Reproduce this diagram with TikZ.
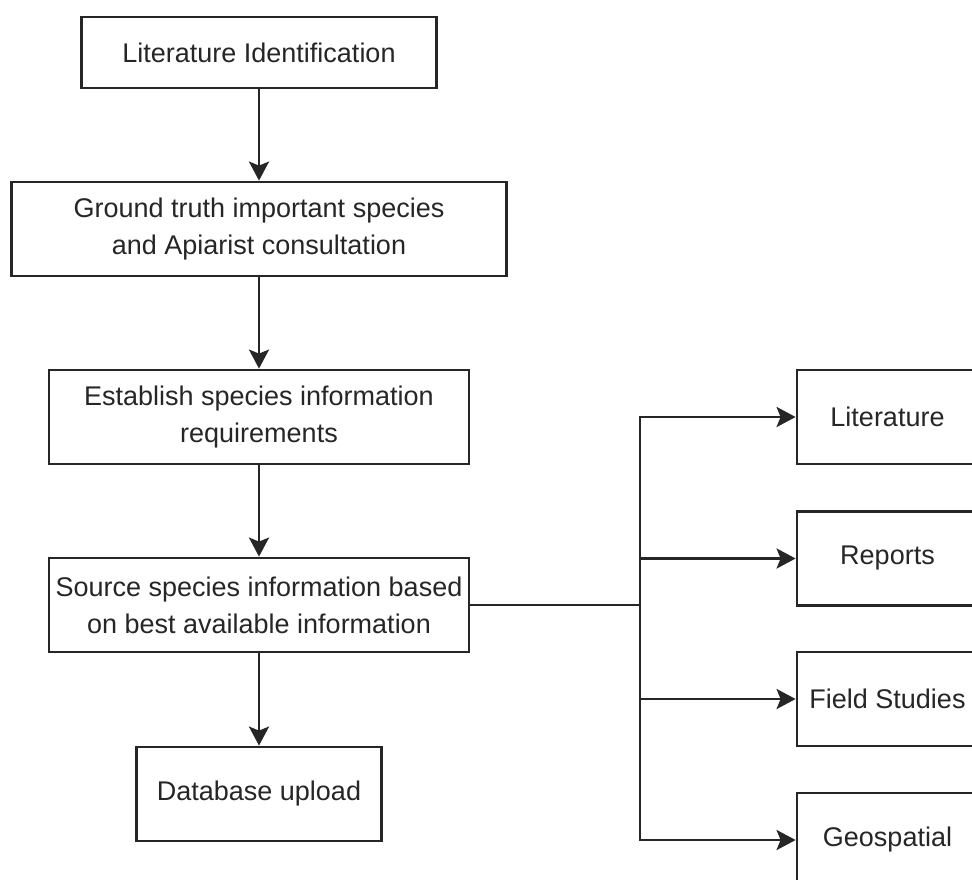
\documentclass[tikz,border=0pt]{standalone}
\usepackage{fontspec}
\setmainfont{Liberation Sans}
\usetikzlibrary{arrows.meta}
\begin{document}
\begin{tikzpicture}[x=1pt,y=-1pt,
  box/.style={draw=black!85, line width=2.8pt, rectangle, inner sep=0pt, align=center,
    text=black!85, font=\fontsize{27}{37}\selectfont},
  arr/.style={draw=black!85, line width=2.8pt, -{Stealth[length=19pt,width=20pt,inset=4pt]}},
  ln/.style={draw=black!85, line width=2.8pt}]
\clip (0,0) rectangle (972,879);
\fill[white] (0,0) rectangle (972,879);
\node[box, minimum width=355pt, minimum height=71pt] (b1) at (259,52.5) {Literature Identification};
\node[box, minimum width=495pt, minimum height=94pt] (b2) at (259,229) {Ground truth important species\\and Apiarist consultation};
\node[box, minimum width=420pt, minimum height=94pt] (b3) at (259,417) {Establish species information\\requirements};
\node[box, minimum width=420pt, minimum height=94pt] (b4) at (259,605) {Source species information based\\on best available information};
\node[box, minimum width=245pt, minimum height=94pt] (b5) at (259,794) {Database upload};
\node[box, minimum width=181pt, minimum height=94pt] (r1) at (887.5,417) {Literature};
\node[box, minimum width=181pt, minimum height=94pt] (r2) at (887.5,558.5) {Reports};
\node[box, minimum width=181pt, minimum height=94pt] (r3) at (887.5,699) {Field Studies};
\node[box, minimum width=181pt, minimum height=94pt] (r4) at (887.5,840) {Geospatial};
\coordinate (jm) at (640,605);
\draw[arr] (b1.south) -- (b2.north);
\draw[arr] (b2.south) -- (b3.north);
\draw[arr] (b3.south) -- (b4.north);
\draw[arr] (b4.south) -- (b5.north);
\draw[ln] (b4.east) -- (jm);
\draw[arr] (jm) |- (r1.west);
\draw[arr] (jm) |- (r2.west);
\draw[arr] (jm) |- (r3.west);
\draw[arr] (jm) |- (r4.west);
\end{tikzpicture}
\end{document}
